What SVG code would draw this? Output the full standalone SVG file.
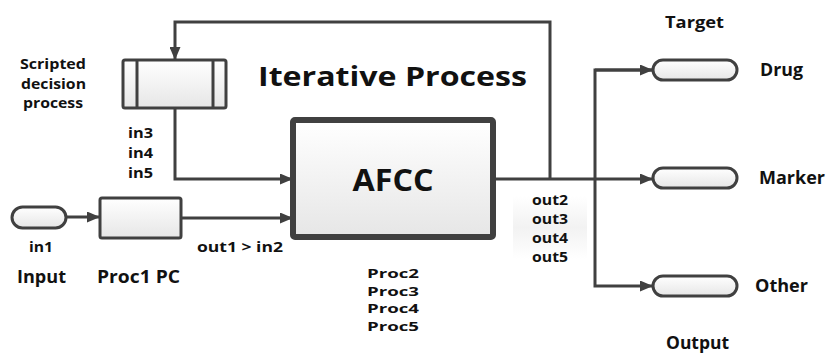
<svg xmlns="http://www.w3.org/2000/svg" width="829" height="354" viewBox="0 0 829 354">
<defs>
<linearGradient id="g" x1="0" y1="0" x2="0" y2="1"><stop offset="0" stop-color="#ffffff"/><stop offset="1" stop-color="#e6e6e6"/></linearGradient>
<linearGradient id="bg" x1="0" y1="0" x2="0" y2="1"><stop offset="0" stop-color="#ffffff"/><stop offset="0.5" stop-color="#f2f2f2"/><stop offset="1" stop-color="#ffffff"/></linearGradient>
<marker id="ah" markerWidth="13" markerHeight="11" refX="13" refY="5.5" orient="auto" markerUnits="userSpaceOnUse"><path d="M0,0 L13,5.5 L0,11 z" fill="#404040"/></marker>
<style>
.t{font-family:"Open Sans","DejaVu Sans",sans-serif;font-weight:bold;fill:#111;}
.c{fill:none;stroke:#404040;stroke-width:3;stroke-linejoin:miter;}
.b{fill:url(#g);stroke:#404040;stroke-width:3;}
</style>
</defs>
<rect width="829" height="354" fill="#fff"/>
<rect x="513" y="196" width="74" height="63" fill="url(#bg)"/>
<g id="connectors">
<path class="c" d="M493,179 H595" />
<path class="c" d="M595,179 H653" marker-end="url(#ah)"/>
<path class="c" d="M550,179 V22 H175 V60" marker-end="url(#ah)"/>
<path class="c" d="M175,108 V179 H293" marker-end="url(#ah)"/>
<path class="c" d="M66,217 H100" marker-end="url(#ah)"/>
<path class="c" d="M181,218 H293" marker-end="url(#ah)"/>
<path class="c" d="M653,70 H595 V286 H653" marker-end="url(#ah)"/>
<path class="c" d="M595,70 H653" marker-end="url(#ah)"/>
</g>
<g id="scripted">
<rect class="b" x="123" y="60" width="103" height="48" rx="2"/>
<line x1="137" y1="60" x2="137" y2="108" stroke="#404040" stroke-width="3"/>
<line x1="213" y1="60" x2="213" y2="108" stroke="#404040" stroke-width="3"/>
</g>
<g id="afcc">
<rect x="293" y="120" width="200" height="117" rx="2" fill="url(#g)" stroke="#404040" stroke-width="6"/>
<text class="t" x="393" y="191" font-size="30" text-anchor="middle" textLength="81" lengthAdjust="spacingAndGlyphs">AFCC</text>
</g>
<g id="input">
<rect class="b" x="12" y="207" width="54" height="21" rx="10.5"/>
</g>
<g id="proc1">
<rect class="b" x="100" y="198" width="81" height="40" rx="2"/>
</g>
<g id="drug"><rect class="b" x="653" y="60" width="84" height="20" rx="10"/></g>
<g id="marker"><rect class="b" x="653" y="168" width="84" height="20" rx="10"/></g>
<g id="other"><rect class="b" x="653" y="276" width="84" height="20" rx="10"/></g>
<g id="labels">
<text class="t" x="258" y="86" font-size="26" textLength="269" lengthAdjust="spacingAndGlyphs">Iterative Process</text>
<text class="t" x="20" y="69" font-size="14.5" textLength="66" lengthAdjust="spacingAndGlyphs">Scripted</text>
<text class="t" x="21" y="89" font-size="14.5" textLength="65" lengthAdjust="spacingAndGlyphs">decision</text>
<text class="t" x="23" y="108" font-size="14.5" textLength="60" lengthAdjust="spacingAndGlyphs">process</text>
<text class="t" x="128" y="138" font-size="14" textLength="25" lengthAdjust="spacingAndGlyphs">in3</text>
<text class="t" x="128" y="158" font-size="14" textLength="25" lengthAdjust="spacingAndGlyphs">in4</text>
<text class="t" x="128" y="178" font-size="14" textLength="25" lengthAdjust="spacingAndGlyphs">in5</text>
<text class="t" x="29" y="252" font-size="14" textLength="24" lengthAdjust="spacingAndGlyphs">in1</text>
<text class="t" x="17" y="283" font-size="17" textLength="49" lengthAdjust="spacingAndGlyphs">Input</text>
<text class="t" x="97" y="283" font-size="17" textLength="83" lengthAdjust="spacingAndGlyphs">Proc1 PC</text>
<text class="t" x="197" y="252" font-size="14" textLength="86" lengthAdjust="spacingAndGlyphs">out1 &gt;  in2</text>
<text class="t" x="367" y="278" font-size="13" textLength="52" lengthAdjust="spacingAndGlyphs">Proc2</text>
<text class="t" x="367" y="296" font-size="13" textLength="52" lengthAdjust="spacingAndGlyphs">Proc3</text>
<text class="t" x="367" y="313" font-size="13" textLength="52" lengthAdjust="spacingAndGlyphs">Proc4</text>
<text class="t" x="367" y="331" font-size="13" textLength="52" lengthAdjust="spacingAndGlyphs">Proc5</text>
<text class="t" x="532" y="205" font-size="13.5" textLength="36" lengthAdjust="spacingAndGlyphs">out2</text>
<text class="t" x="532" y="224" font-size="13.5" textLength="36" lengthAdjust="spacingAndGlyphs">out3</text>
<text class="t" x="532" y="243" font-size="13.5" textLength="36" lengthAdjust="spacingAndGlyphs">out4</text>
<text class="t" x="532" y="262" font-size="13.5" textLength="36" lengthAdjust="spacingAndGlyphs">out5</text>
<text class="t" x="665" y="28" font-size="16" textLength="59" lengthAdjust="spacingAndGlyphs">Target</text>
<text class="t" x="760" y="76" font-size="17" textLength="43" lengthAdjust="spacingAndGlyphs">Drug</text>
<text class="t" x="759" y="184" font-size="17" textLength="66" lengthAdjust="spacingAndGlyphs">Marker</text>
<text class="t" x="755" y="292" font-size="17" textLength="53" lengthAdjust="spacingAndGlyphs">Other</text>
<text class="t" x="666" y="349" font-size="17" textLength="63" lengthAdjust="spacingAndGlyphs">Output</text>
</g>
</svg>
